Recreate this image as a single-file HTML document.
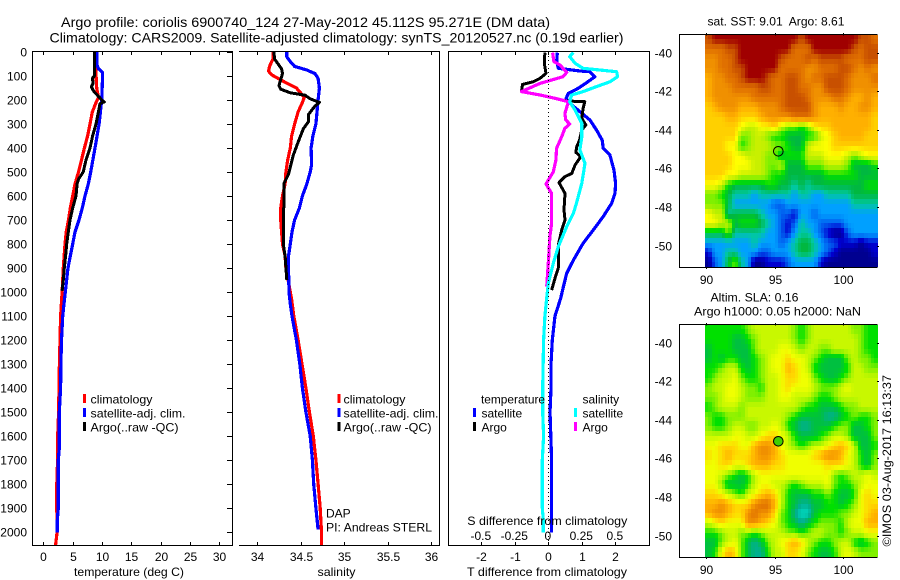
<!DOCTYPE html>
<html lang="en">
<head>
<meta charset="utf-8">
<title>Argo profile chart</title>
<style>
html,body{margin:0;padding:0;background:#fff;}
svg{display:block;font-family:"Liberation Sans",sans-serif;fill:#000;}
text{font-size:12px;fill:#000;white-space:pre;}
.t14{font-size:14px;}
.f{stroke:#000;stroke-width:1;fill:none;shape-rendering:crispEdges;}
</style>
</head>
<body>
<svg id="chart" xmlns="http://www.w3.org/2000/svg" width="900" height="580" viewBox="0 0 900 580">
  <rect x="0" y="0" width="900" height="580" style="fill:#fff"/>
  <text class="t14" x="61" y="27" textLength="489" lengthAdjust="spacingAndGlyphs">Argo profile: coriolis 6900740_124 27-May-2012 45.112S 95.271E (DM data)</text>
  <text class="t14" x="49.5" y="42.5" textLength="574" lengthAdjust="spacingAndGlyphs">Climatology: CARS2009. Satellite-adjusted climatology: synTS_20120527.nc (0.19d earlier)</text>

  <g id="p1"></g>
  <g id="p2"></g>
  <g id="p3"></g>
  <g id="m1"></g>
  <g id="m2"></g>

  <path class="f" d="M32.5 51.5H232.5V545.5H32.5Z"/>
  <path class="f" d="M239 51.5H439.5V545.5H239"/>
  <path class="f" d="M448.5 51.5H649.5V545.5H448.5Z"/>
  <path class="f" d="M877.5 34.5H679.5V267.5H877.5"/>
  <path class="f" d="M877.5 324.5H679.5V557.5H877.5"/>
  <line x1="548.5" y1="52" x2="548.5" y2="545" style="stroke:#000;stroke-width:1;stroke-dasharray:1 3;shape-rendering:crispEdges"/>

  <text x="74" y="576" textLength="110" lengthAdjust="spacingAndGlyphs">temperature (deg C)</text>
  <text x="317.5" y="576" textLength="38" lengthAdjust="spacingAndGlyphs">salinity</text>
  <text x="467" y="576" textLength="160" lengthAdjust="spacingAndGlyphs">T difference from climatology</text>
  <text x="467.3" y="525" textLength="160" lengthAdjust="spacingAndGlyphs">S difference from climatology</text>

  <g>
    <rect x="83" y="394" width="3" height="9" style="fill:#f00"/>
    <text x="90.5" y="403.5" textLength="62" lengthAdjust="spacingAndGlyphs">climatology</text>
    <rect x="83" y="408" width="3" height="9" style="fill:#00f"/>
    <text x="90.5" y="417.5" textLength="95" lengthAdjust="spacingAndGlyphs">satellite-adj. clim.</text>
    <rect x="83" y="422" width="3" height="9" style="fill:#000"/>
    <text x="90.5" y="431.5" textLength="88" lengthAdjust="spacingAndGlyphs">Argo(..raw -QC)</text>
  </g>
  <g>
    <rect x="337.5" y="394" width="3" height="9" style="fill:#f00"/>
    <text x="343.5" y="403.5" textLength="62" lengthAdjust="spacingAndGlyphs">climatology</text>
    <rect x="337.5" y="408" width="3" height="9" style="fill:#00f"/>
    <text x="343.5" y="417.5" textLength="95" lengthAdjust="spacingAndGlyphs">satellite-adj. clim.</text>
    <rect x="337.5" y="422" width="3" height="9" style="fill:#000"/>
    <text x="343.5" y="431.5" textLength="88" lengthAdjust="spacingAndGlyphs">Argo(..raw -QC)</text>
  </g>
  <text x="326" y="517.5">DAP</text>
  <text x="326" y="531.5" textLength="106" lengthAdjust="spacingAndGlyphs">PI: Andreas STERL</text>
  <g>
    <text x="481" y="403.5" textLength="64" lengthAdjust="spacingAndGlyphs">temperature</text>
    <rect x="473" y="408" width="3" height="9" style="fill:#00f"/>
    <text x="481.5" y="417.5">satellite</text>
    <rect x="473" y="422" width="3" height="9" style="fill:#000"/>
    <text x="481.5" y="431.5">Argo</text>
    <text x="582.5" y="403.5">salinity</text>
    <rect x="574" y="408" width="3" height="9" style="fill:#0ff"/>
    <text x="582.5" y="417.5">satellite</text>
    <rect x="574" y="422" width="3" height="9" style="fill:#f0f"/>
    <text x="582.5" y="431.5">Argo</text>
  </g>

  <text x="707.5" y="25.5" textLength="137" lengthAdjust="spacingAndGlyphs">sat. SST: 9.01  Argo: 8.61</text>
  <text x="710.5" y="301.5" textLength="88" lengthAdjust="spacingAndGlyphs">Altim. SLA: 0.16</text>
  <text x="694" y="315.5" textLength="167" lengthAdjust="spacingAndGlyphs">Argo h1000: 0.05 h2000: NaN</text>
  <text x="0" y="0" transform="translate(891,546.5) rotate(-90)" textLength="171.5" lengthAdjust="spacingAndGlyphs">©IMOS 03-Aug-2017 16:13:37</text>
</svg>
<script>
// ---- axis data ----
const depthTicks = [0,100,200,300,400,500,600,700,800,900,1000,1100,1200,1300,1400,1500,1600,1700,1800,1900,2000];
const tempTicks = [0,5,10,15,20,25,30];
const salTicks = [34,34.5,35,35.5,36];
const salTickLabels = ['34','34.5','35','35.5','36'];
const tDiffTicks = [-2,-1,0,1,2];
const sDiffTicks = [-0.5,-0.25,0,0.25,0.5];
const lonTicks = [90,95,100];
const latTicks = [-40,-42,-44,-46,-48,-50];
const floatLon = [95.271];
const floatLat = [-45.112];

// ---- temperature series ----
const tempClimDepth = [0,100,150,190,210,250,300,350,400,450,500,550,600,650,700,750,800,900,1000,1100,1200,1300,1400,1500,1600,1700,1800,1900,2000,2054];
const tempClimValue = [8.9,9.0,9.1,9.4,9.0,8.35,7.95,7.55,7.0,6.5,6.0,5.4,5.0,4.6,4.3,3.9,3.7,3.4,3.2,2.95,2.85,2.75,2.67,2.6,2.45,2.44,2.3,2.3,2.35,2.1];
const tempSatDepth = [0,50,70,85,100,200,300,400,500,550,600,650,700,750,800,850,900,1000,1100,1200,1300,1400,1500,1650,1700,1900,1950,2003];
const tempSatValue = [9.1,9.1,9.4,10.1,10.1,9.95,9.5,8.8,8.07,7.67,7.1,6.65,6.08,5.4,5.0,4.6,4.2,3.75,3.3,3.1,3.0,2.95,2.73,2.73,2.55,2.55,2.38,2.38];
const tempArgoDepth = [0,100,110,130,145,160,170,185,200,208,215,280,300,350,400,450,500,530,550,600,650,700,750,800,850,900,950,995];
const tempArgoValue = [8.7,8.7,8.35,8.5,8.2,8.5,8.8,9.4,9.95,10.4,9.66,9.15,8.98,8.4,7.95,7.27,6.8,6.0,5.75,5.57,5.0,4.55,4.26,3.98,3.8,3.58,3.4,3.2];

// ---- salinity series ----
const salClimDepth = [0,30,60,80,95,110,130,150,175,190,210,250,300,350,400,450,500,550,600,650,700,800,850,900,1000,1030,1100,1200,1300,1400,1500,1600,1700,1800,1900,2000,2054];
const salClimValue = [34.18,34.18,34.14,34.13,34.165,34.24,34.34,34.45,34.51,34.54,34.52,34.47,34.43,34.395,34.38,34.35,34.33,34.32,34.29,34.27,34.27,34.29,34.32,34.33,34.38,34.395,34.42,34.47,34.515,34.56,34.6,34.645,34.675,34.7,34.725,34.74,34.74];
const salSatDepth = [0,20,40,60,75,90,110,150,200,300,350,400,470,500,550,600,650,700,750,800,850,900,1000,1050,1100,1200,1300,1400,1500,1600,1700,1800,1900,1990];
const salSatValue = [34.34,34.34,34.38,34.43,34.57,34.665,34.7,34.715,34.7,34.675,34.64,34.62,34.625,34.61,34.57,34.52,34.485,34.43,34.4,34.38,34.36,34.36,34.365,34.38,34.4,34.45,34.49,34.52,34.56,34.61,34.635,34.65,34.675,34.7];
const salArgoDepth = [0,30,50,70,90,115,140,155,170,180,195,210,225,260,290,320,380,430,480,510,545,600,700,800,850,950];
const salArgoValue = [34.19,34.2,34.24,34.28,34.29,34.27,34.25,34.27,34.38,34.55,34.61,34.715,34.665,34.59,34.59,34.53,34.465,34.415,34.38,34.36,34.31,34.31,34.3,34.3,34.32,34.34];

// ---- difference series ----
const tDiffSatDepth = [3,40,68,79,82,103,128,151,172,193,221,249,283,325,367,401,429,492,547,589,631,686,742,797,867,922,978,1026,1100,1200,1300,1400,1500,1700,1950,2003];
const tDiffSatValue = [0.27,0.25,0.3,0.945,1.24,1.39,1.14,0.9,0.6,0.53,0.7,0.95,1.24,1.44,1.61,1.64,1.84,1.96,2.01,1.99,1.89,1.64,1.34,1.04,0.75,0.55,0.45,0.37,0.2,0.12,0.08,0.08,0.05,0.1,0.1,0.1];
const tDiffArgoDepth = [3,47,89,110,124,135,165,179,193,204,207,235,276,304,325,367,394,418,436,471,506,519,544,589,658,700,742,797,894,943,992];
const tDiffArgoValue = [-0.1,-0.12,-0.07,-0.25,-0.45,-0.77,-0.8,-0.25,0.2,0.55,1.09,1.04,1.0,1.12,1.0,0.93,0.85,0.82,0.97,0.8,0.7,0.5,0.32,0.5,0.47,0.5,0.4,0.31,0.31,0.2,0.1];
const sDiffSatDepth = [3,19,47,68,78,82,103,124,144,165,179,207,242,297,353,408,464,547,631,672,728,811,880,964,1026,1100,1200,1400,1500,1600,1700,1900,1950,2003];
const sDiffSatValue = [0.187,0.16,0.2,0.26,0.435,0.51,0.517,0.46,0.36,0.26,0.174,0.16,0.2,0.25,0.25,0.236,0.274,0.25,0.21,0.187,0.137,0.075,0.037,0,-0.012,-0.025,-0.035,-0.042,-0.042,-0.035,-0.045,-0.045,-0.037,-0.037];
const sDiffArgoDepth = [3,40,54,85,103,131,165,179,193,207,256,283,300,318,353,401,450,499,550,589,714,769,880,978];
const sDiffArgoValue = [0.032,0.042,0.087,0.137,0.11,-0.062,-0.2,-0.062,0.05,0.15,0.124,0.13,0.16,0.124,0.1,0.062,0.057,0.037,-0.017,0.025,0.025,0.012,0,-0.012];

// ---- map grids (colour-level values, row 0 = north) ----
const sstLevels = [
[14,15,15,15,15,15,15,15,15,15,15,15,15,15,14,15,15,15,15,15,15,15,15,14,14,13],
[13,13,13,14,14,15,15,15,15,15,15,15,15,13,13,13,15,15,15,15,15,15,14,13,14,14],
[12,12,13,13,14,15,15,15,15,15,15,14,13,13,13,14,13,14,14,14,14,13,13,13,14,14],
[12,12,13,13,14,14,15,15,15,15,15,13,13,13,13,12,12,13,13,13,14,14,13,12,13,12],
[11,12,12,13,13,14,15,15,15,14,13,13,14,14,13,12,13,13,14,14,14,13,12,12,12,13],
[11,12,12,12,13,13,13,13,14,14,13,13,14,14,13,13,12,12,14,14,14,13,12,12,12,12],
[11,12,12,12,12,12,12,13,13,13,13,13,14,14,14,13,12,12,12,13,13,12,11,11,12,11],
[10,11,12,12,12,11,11,11,12,12,12,13,14,14,14,14,12,11,11,11,12,11,11,12,12,11],
[10,10,10,11,11,10,10,10,11,12,12,12,12,13,13,13,12,11,11,11,11,11,11,11,11,10],
[10,10,10,10,10,9,8,8,9,9,10,8,7,7,6,7,9,10,10,11,11,11,11,11,11,10],
[10,10,10,10,10,7,7,8,8,7,6,6,5,5,5,6,6,8,9,10,11,11,11,11,10,10],
[10,10,10,9,9,6,7,8,8,8,7,7,6,5,5,8,9,9,9,10,10,10,10,10,10,10],
[10,10,10,10,9,9,8,8,8,7,7,5,6,6,6,8,8,8,9,9,9,8,7,8,9,9],
[10,10,10,10,9,9,9,8,8,7,7,8,5,5,5,7,7,7,8,8,8,7,5,5,5,6],
[10,10,10,9,9,8,8,8,8,7,6,6,5,5,5,5,5,5,6,6,6,6,6,5,5,5],
[9,9,8,6,5,5,5,5,5,6,6,5,5,4,5,4,5,5,5,5,5,5,5,5,6,6],
[7,7,6,5,4,4,4,3,4,4,4,4,4,3,4,4,3,3,4,4,4,4,5,5,5,5],
[7,7,7,5,3,3,3,3,3,3,2,2,3,3,3,3,3,3,3,3,3,3,4,4,4,4],
[9,8,8,4,5,5,5,5,4,3,3,2,2,1,3,3,2,3,3,3,3,3,3,3,3,3],
[9,9,8,8,5,6,6,6,5,4,3,2,1,2,4,3,3,2,2,2,2,3,3,3,3,3],
[5,5,5,7,4,4,4,4,4,3,3,2,1,3,4,4,3,2,1,0,0,2,3,3,3,3],
[3,3,3,3,3,3,3,4,3,3,3,2,3,4,5,5,4,3,2,2,1,1,1,0,1,1],
[1,3,3,4,4,3,3,3,2,2,3,3,3,4,5,5,4,3,2,1,0,0,0,0,0,1],
[0,2,3,5,7,4,3,0,0,1,1,1,2,3,3,3,3,1,0,0,0,0,0,0,0,0]
];
const slaLevels = [
[6,6,6,6,6,6,7,8,8,8,8,8,8,7,6,7,8,8,8,8,8,8,7,7,6,6],
[6,6,6,6,5,5,6,7,8,8,8,8,8,7,6,7,8,8,8,8,8,8,8,7,6,6],
[5,6,6,6,5,5,5,7,8,8,8,9,9,8,7,8,8,7,7,8,8,8,8,7,6,6],
[5,6,5,6,6,5,5,6,7,8,9,9,10,9,9,8,7,6,5,5,5,7,8,7,7,6],
[6,6,7,8,8,6,5,6,7,8,9,9,11,10,9,8,6,5,5,5,5,6,8,8,7,7],
[6,7,8,8,9,7,6,6,7,8,8,9,10,10,9,9,7,6,5,5,6,7,8,8,8,8],
[7,8,8,9,9,8,7,7,6,8,8,9,10,9,9,9,8,7,7,7,8,9,8,8,8,8],
[7,7,8,9,9,8,7,7,7,8,8,9,9,8,8,8,7,6,6,7,8,8,8,8,8,8],
[6,7,8,8,8,7,8,8,8,8,8,8,8,8,7,6,6,5,5,5,6,7,7,8,8,8],
[7,6,6,7,7,7,8,8,8,8,8,8,7,6,5,5,5,5,4,4,5,6,7,6,6,7],
[7,6,6,7,8,8,7,7,8,8,9,8,6,5,4,4,5,5,5,6,7,7,5,5,6,7],
[8,8,8,8,9,9,8,8,9,10,10,9,8,6,5,5,5,6,7,8,8,7,5,5,5,7],
[9,9,10,10,10,9,9,11,12,12,11,9,8,7,6,7,8,8,9,10,11,10,8,5,5,6],
[10,9,10,11,10,10,10,11,12,12,11,10,9,9,9,9,10,11,12,12,11,9,8,6,5,7],
[9,9,10,10,9,9,10,11,11,11,10,10,9,9,9,9,9,9,10,10,10,9,8,6,5,7],
[9,9,8,7,6,5,6,8,9,9,9,9,9,9,9,9,9,9,9,7,6,7,8,8,9,8],
[9,9,7,5,5,5,6,8,9,9,8,8,7,6,7,8,8,8,9,7,6,6,7,8,9,9],
[10,10,9,8,7,6,8,9,10,11,10,8,6,5,5,5,6,6,7,6,5,5,6,9,10,9],
[11,11,12,11,10,10,10,12,13,13,11,8,6,5,4,4,5,5,6,6,5,6,7,9,10,10],
[11,12,12,11,10,10,12,13,12,12,10,7,6,4,3,3,5,6,6,6,7,7,8,9,10,11],
[8,9,10,9,9,9,12,12,11,10,9,7,6,5,4,5,6,7,7,7,6,8,9,9,11,11],
[6,6,7,8,8,7,7,6,7,8,8,8,7,7,6,7,8,8,7,7,6,7,8,8,9,9],
[5,5,7,8,9,7,5,4,5,7,8,9,10,11,10,8,7,6,6,7,8,8,6,5,6,7],
[5,6,9,11,10,7,5,4,4,6,8,8,10,10,9,7,6,5,5,6,8,9,8,7,7,7]
];
const sstColors = ['#000090','#0000d0','#0060f0','#00a0ff','#00c8a0','#00b840','#00e000','#80f000','#c8f000','#ffff00','#ffd000','#ffb000','#f09000','#e07000','#c85000','#a00000'];
const slaColors = ['#000090','#0000d0','#0060f0','#00d8c0','#00b090','#00c040','#00e000','#80f000','#c8f800','#f0ff00','#ffd800','#ffb000','#f09000','#e07000','#c85000','#a00000'];

const SVGNS = 'http://www.w3.org/2000/svg';
const make = (parent, tag, attrs, text) => {
  const el = document.createElementNS(SVGNS, tag);
  for (const k in attrs) el.setAttribute(k, attrs[k]);
  if (text !== undefined) el.textContent = text;
  parent.appendChild(el);
  return el;
};

// ---- scales ----
const yDepth = d => 52 + 0.24 * d;
const xTemp = v => 43.3 + 5.87 * v;
const xSal = v => 257.3 + 86.8 * (v - 34);
const xTDiff = v => 548.3 + 33.5 * v;
const xSDiff = v => 548.3 + 134 * v;
const xLon = v => 706 + 13.72 * (v - 90);
const yLat = (v, top) => top + 19.32 * (-40 - v);

function drawSeries(parent, name, xs, depths, values, color, width) {
  const pts = depths.map((d, i) => xs(values[i]).toFixed(1) + ',' + yDepth(d).toFixed(1)).join(' ');
  const el = make(parent, 'polyline', {points: pts, fill: 'none', stroke: color, 'stroke-width': width, 'stroke-linejoin': 'round', 'shape-rendering': 'crispEdges'});
  
  
}

function xTicks(parent, name, ticks, labels, xs, yTop, yBottom, labelY) {
  ticks.forEach((t, i) => {
    const x = Math.round(xs(t)) + 0.5;
    const top = make(parent, 'line', {x1: x, x2: x, y1: yTop, y2: yTop + 3, stroke: '#000', 'shape-rendering': 'crispEdges'});
    
    
    const bottom = make(parent, 'line', {x1: x, x2: x, y1: yBottom - 3, y2: yBottom, stroke: '#000', 'shape-rendering': 'crispEdges'});
    
    
    const lab = make(parent, 'text', {x: x, y: labelY, 'text-anchor': 'middle'}, labels[i]);
    
    
  });
}

const p1 = document.getElementById('p1');
const p2 = document.getElementById('p2');
const p3 = document.getElementById('p3');

// depth axis
depthTicks.forEach(d => {
  const y = Math.round(yDepth(d)) + 0.5;
  const tick = make(p1, 'line', {x1: 227, x2: 232, y1: y, y2: y, stroke: '#000', 'shape-rendering': 'crispEdges'});
  
  
  const lab = make(p1, 'text', {x: 27, y: y + 4, 'text-anchor': 'end'}, String(d));
  
  
});

xTicks(p1, 'temperature-axis', tempTicks, tempTicks.map(String), xTemp, 52, 545, 561);
xTicks(p2, 'salinity-axis', salTicks, salTickLabels, xSal, 52, 545, 561);
xTicks(p3, 't-difference-axis', tDiffTicks, tDiffTicks.map(String), xTDiff, 52, 545, 561);
sDiffTicks.forEach(t => {
  const lab = make(p3, 'text', {x: xSDiff(t) - 0.5, y: 540, 'text-anchor': 'middle'}, String(t));
  
  
});

drawSeries(p1, 'temperature-climatology-line', xTemp, tempClimDepth, tempClimValue, '#f00', 3.2);
drawSeries(p1, 'temperature-satellite-line', xTemp, tempSatDepth, tempSatValue, '#00f', 3.2);
drawSeries(p1, 'temperature-argo-line', xTemp, tempArgoDepth, tempArgoValue, '#000', 3);
drawSeries(p2, 'salinity-climatology-line', xSal, salClimDepth, salClimValue, '#f00', 3.2);
drawSeries(p2, 'salinity-satellite-line', xSal, salSatDepth, salSatValue, '#00f', 3.2);
drawSeries(p2, 'salinity-argo-line', xSal, salArgoDepth, salArgoValue, '#000', 3);
drawSeries(p3, 't-difference-satellite-line', xTDiff, tDiffSatDepth, tDiffSatValue, '#00f', 3.2);
drawSeries(p3, 't-difference-argo-line', xTDiff, tDiffArgoDepth, tDiffArgoValue, '#000', 3);
drawSeries(p3, 's-difference-argo-line', xSDiff, sDiffArgoDepth, sDiffArgoValue, '#f0f', 3.2);
drawSeries(p3, 's-difference-satellite-line', xSDiff, sDiffSatDepth, sDiffSatValue, '#0ff', 3.2);

const hexRgb = h => [parseInt(h.slice(1,3),16), parseInt(h.slice(3,5),16), parseInt(h.slice(5,7),16)];

function levelColor(colors, v) {
  const a = Math.min(colors.length - 1, Math.floor(v));
  const b = Math.min(colors.length - 1, a + 1);
  const f = v - a;
  const ca = hexRgb(colors[a]), cb = hexRgb(colors[b]);
  return 'rgb(' + ca.map((c, k) => Math.round(c + (cb[k] - c) * f)).join(',') + ')';
}

// bilinear read of the level grid at fractional (row, col)
function sampleLevel(levels, r, c) {
  const rows = levels.length, cols = levels[0].length;
  const rc = Math.max(0, Math.min(rows - 1, r));
  const cc = Math.max(0, Math.min(cols - 1, c));
  const r0 = Math.floor(rc), c0 = Math.floor(cc);
  const r1 = Math.min(rows - 1, r0 + 1), c1 = Math.min(cols - 1, c0 + 1);
  const fr = rc - r0, fc = cc - c0;
  return (levels[r0][c0] * (1 - fc) + levels[r0][c1] * fc) * (1 - fr) + (levels[r1][c0] * (1 - fc) + levels[r1][c1] * fc) * fr;
}

function drawMap(id, levels, colors, top, bottom, cellName, markerFill) {
  const g = document.getElementById(id);
  const sub = 2;
  const rows = levels.length * sub;
  const cols = levels[0].length * sub;
  const left = 705, right = 877.5;
  for (let j = 0; j < rows; j++) {
    for (let i = 0; i < cols; i++) {
      const v = sampleLevel(levels, (j + 0.5) / sub - 0.5, (i + 0.5) / sub - 0.5);
      const x0 = Math.round(left + (right - left) * i / cols);
      const x1 = Math.round(left + (right - left) * (i + 1) / cols);
      const y0 = Math.round(top + (bottom - top) * j / rows);
      const y1 = Math.round(top + (bottom - top) * (j + 1) / rows);
      const cell = make(g, 'rect', {x: x0, y: y0, width: x1 - x0, height: y1 - y0, fill: levelColor(colors, v), 'shape-rendering': 'crispEdges'});
      
      
    }
  }
  const north = top + 18;
  lonTicks.forEach(t => {
    const x = Math.round(xLon(t)) + 0.5;
    const a = make(g, 'line', {x1: x, x2: x, y1: top - 1.5, y2: top + 1, stroke: '#000', 'shape-rendering': 'crispEdges'});
    
    
    const b = make(g, 'line', {x1: x, x2: x, y1: bottom, y2: bottom + 2, stroke: '#000', 'shape-rendering': 'crispEdges'});
    
    
    const lab = make(g, 'text', {x: x, y: bottom + 17, 'text-anchor': 'middle'}, String(t));
    
    
  });
  latTicks.forEach(t => {
    const y = Math.round(yLat(t, north)) + 0.5;
    const a = make(g, 'line', {x1: 877, x2: 879, y1: y, y2: y, stroke: '#000', 'shape-rendering': 'crispEdges'});
    
    
    const lab = make(g, 'text', {x: 672, y: y + 4, 'text-anchor': 'end'}, String(t));
    
    
  });
  const marker = make(g, 'circle', {cx: xLon(floatLon[0]), cy: yLat(floatLat[0], north), r: 4.8, fill: markerFill, stroke: '#000', 'stroke-width': 1});
  
  
}
drawMap('m1', sstLevels, sstColors, 34.5, 267, 'sst-cell', 'none');
drawMap('m2', slaLevels, slaColors, 324.5, 557, 'sla-cell', '#40d000');
</script>
</body>
</html>
